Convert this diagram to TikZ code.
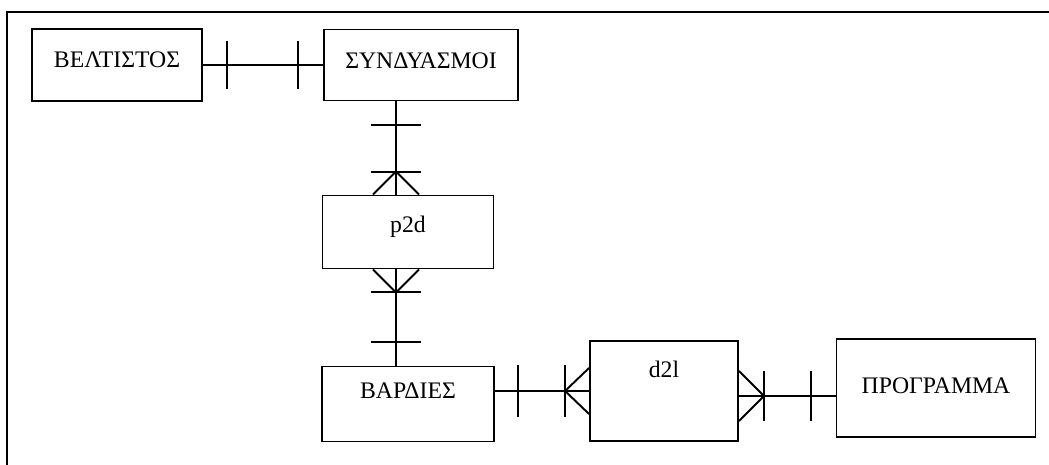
\documentclass[tikz,border=0pt]{standalone}
\usepackage{fontspec}
\setmainfont{Liberation Serif}
\usetikzlibrary{calc}

\begin{document}
\begin{tikzpicture}[x=0.02cm, y=-0.02cm, line width=1.1pt,
    every node/.style={font=\fontsize{13.5}{16}\selectfont, text height=0.66em},
    ent/.style={draw, inner sep=0pt}]
  \useasboundingbox (0,0) rectangle (1049,465);

  % 1. rahmen
  \draw (7,465) -- (7,12) -- (1049,12);

  % 2. entitaeten
  \node[ent, minimum width=3.4cm, minimum height=1.44cm, text depth=0.12cm] (vel) at (117,65) {ΒΕΛΤΙΣΤΟΣ};
  \node[ent, minimum width=3.88cm, minimum height=1.42cm, text depth=0.1cm] (syn) at (421,65) {ΣΥΝΔΥΑΣΜΟΙ};
  \node[ent, minimum width=3.42cm, minimum height=1.46cm, text depth=0.22cm] (p2d) at (408,232) {p2d};
  \node[ent, minimum width=3.44cm, minimum height=1.5cm, text depth=0.46cm] (bar) at (408,404) {ΒΑΡΔΙΕΣ};
  \node[ent, minimum width=2.96cm, minimum height=2cm, text depth=0.76cm] (d2l) at (664,391) {d2l};
  \node[ent, minimum width=3.98cm, minimum height=1.96cm, text depth=0cm] (pro) at (936,388) {ΠΡΟΓΡΑΜΜΑ};

  % 3. hilfspunkte fuer die linien
  \coordinate (vx) at (396,0);
  \coordinate (hy) at (0,396);

  % 4. beziehungen
  \draw (vel) -- (syn);
  \draw ($(vel.east)+(24,-24)$) -- ++(0,48);
  \draw ($(syn.west)+(-25,-24)$) -- ++(0,48);

  \draw (syn.south -| vx) -- (p2d.north -| vx);
  \draw ($(syn.south -| vx)+(-25,24)$) -- ++(50,0);
  \draw ($(p2d.north -| vx)+(-25,-23)$) -- ++(50,0);
  \draw ($(p2d.north -| vx)+(-23,0)$) -- ++(23,-23) -- ++(23,23);

  \draw (p2d.south -| vx) -- (bar.north -| vx);
  \draw ($(p2d.south -| vx)+(-23,0)$) -- ++(23,23) -- ++(23,-23);
  \draw ($(p2d.south -| vx)+(-25,23)$) -- ++(50,0);
  \draw ($(bar.north -| vx)+(-25,-24)$) -- ++(50,0);

  \draw (bar.east |- d2l.west) -- (d2l.west);
  \draw ($(bar.east |- d2l.west)+(23,-26)$) -- ++(0,52);
  \draw ($(d2l.west)+(-24,-26)$) -- ++(0,52);
  \draw ($(d2l.west)+(0,-23)$) -- ++(-24,23) -- ++(24,23);

  \draw (d2l.east |- hy) -- (pro.west |- hy);
  \draw ($(d2l.east |- hy)+(0,-25)$) -- ++(25,25) -- ++(-25,25);
  \draw ($(d2l.east |- hy)+(25,-25)$) -- ++(0,50);
  \draw ($(pro.west |- hy)+(-25,-25)$) -- ++(0,50);
\end{tikzpicture}
\end{document}
